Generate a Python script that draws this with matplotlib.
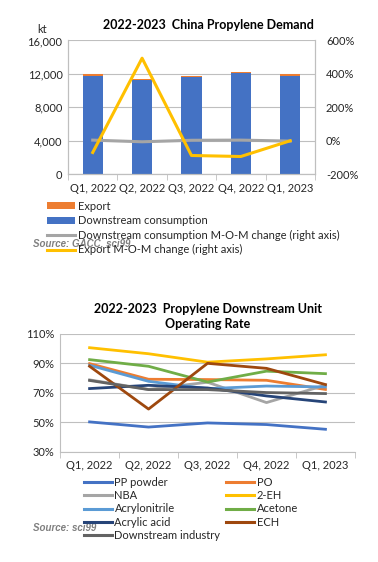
import matplotlib
matplotlib.use("Agg")
import matplotlib.pyplot as plt
from matplotlib.patches import Patch
from matplotlib.lines import Line2D
import numpy as np

plt.rcParams['font.family'] = ['Lato', 'DejaVu Sans']

quarters = ["Q1, 2022", "Q2, 2022", "Q3, 2022", "Q4, 2022", "Q1, 2023"]

# Top chart data
downstream = [11800, 11320, 11640, 12160, 11800]
export = [200, 120, 120, 80, 160]
downstream_mom = [4, -6, 3, 4, -2]
export_mom = [-70, 494, -88, -94, 0]

# Bottom chart data
rate_series = {
    "PP powder": [50.3, 46.8, 49.6, 48.5, 45.3],
    "PO": [89.8, 79.2, 79.0, 78.5, 72.3],
    "NBA": [78.8, 72.3, 77.2, 63.4, 75.2],
    "2-EH": [100.6, 96.5, 90.8, 93.0, 95.8],
    "Acrylonitrile": [88.7, 77.8, 72.8, 74.6, 74.0],
    "Acetone": [92.5, 88.0, 77.3, 84.7, 83.0],
    "Acrylic acid": [72.9, 75.1, 73.3, 67.9, 63.8],
    "ECH": [88.0, 59.0, 90.0, 86.6, 75.6],
    "Downstream industry": [78.4, 72.2, 72.2, 70.2, 69.5],
}
rate_colors = {
    "PP powder": "#4472C4",
    "PO": "#ED7D31",
    "NBA": "#A5A5A5",
    "2-EH": "#FFC000",
    "Acrylonitrile": "#5B9BD5",
    "Acetone": "#70AD47",
    "Acrylic acid": "#264478",
    "ECH": "#9E480E",
    "Downstream industry": "#636363",
}

fig = plt.figure(figsize=(3.78, 5.62), dpi=100)
fig.patch.set_facecolor("white")
grid_c = "#BFBFBF"
txt_c = "#262626"

# ---------- Top chart ----------
ax = fig.add_axes([0.180, 0.690, 0.653, 0.238])
x = np.arange(len(quarters))
ax.bar(x, downstream, width=0.41, color="#4472C4", zorder=2)
ax.bar(x, export, width=0.41, bottom=downstream, color="#ED7D31", zorder=2)
ax.set_xlim(-0.5, len(quarters) - 0.5)
ax.set_ylim(0, 16000)
ax.set_yticks([0, 4000, 8000, 12000, 16000])
ax.set_yticklabels(["0", "4,000", "8,000", "12,000", "16,000"])
ax.yaxis.grid(True, color=grid_c, linewidth=0.8, zorder=0)
ax.set_axisbelow(True)
ax.set_xticks(x)
ax.set_xticklabels(quarters)
ax.set_xticks(np.arange(-0.5, len(quarters), 1), minor=True)
ax.tick_params(axis="x", which="major", length=0, labelsize=8, colors=txt_c, pad=6)
ax.tick_params(axis="x", which="minor", length=4, color=grid_c, direction="out")
ax.tick_params(axis="y", length=0, labelsize=8, colors=txt_c, pad=4)
ax.spines["top"].set_visible(False)
for s in ["left", "bottom", "right"]:
    ax.spines[s].set_color(grid_c)

ax2 = ax.twinx()
ax2.plot(x, downstream_mom, color="#A5A5A5", linewidth=2.2, zorder=3)
ax2.plot(x, export_mom, color="#FFC000", linewidth=2.2, zorder=4)
ax2.set_ylim(-200, 600)
ax2.set_yticks([-200, 0, 200, 400, 600])
ax2.set_yticklabels(["-200%", "0%", "200%", "400%", "600%"])
ax2.tick_params(axis="y", length=0, labelsize=8, colors=txt_c, pad=8)
ax2.spines["top"].set_visible(False)
for s in ["left", "bottom", "right"]:
    ax2.spines[s].set_color(grid_c)

fig.text(0.552, 0.955, "2022-2023  China Propylene Demand", ha="center", va="center",
         fontsize=9, fontweight="bold", color="#000000")
fig.text(0.098, 0.948, "kt", ha="left", va="center", fontsize=8, color=txt_c)

handles1 = [
    Patch(facecolor="#ED7D31"),
    Patch(facecolor="#4472C4"),
    Line2D([0], [0], color="#A5A5A5", linewidth=2.2),
    Line2D([0], [0], color="#FFC000", linewidth=2.2),
]
labels1 = ["Export", "Downstream consumption",
           "Downstream consumption M-O-M change (right axis)",
           "Export M-O-M change (right axis)"]
fig.legend(handles1, labels1, loc="upper left", bbox_to_anchor=(0.125, 0.643),
           frameon=False, fontsize=8, handlelength=2.5, handleheight=0.6,
           handletextpad=0.3, labelspacing=0.32, borderaxespad=0, borderpad=0,
           labelcolor=txt_c)
fig.text(0.087, 0.567, "Source: GACC, sci99", ha="left", va="center", fontsize=7,
         fontweight="bold", style="italic", color="#7F7F7F",
         family=["Liberation Sans", "DejaVu Sans"])

# ---------- Bottom chart ----------
bx = fig.add_axes([0.159, 0.196, 0.780, 0.210])
for name, vals in rate_series.items():
    bx.plot(x, vals, color=rate_colors[name], linewidth=2.0, label=name)
bx.set_xlim(-0.5, len(quarters) - 0.5)
bx.set_ylim(30, 110)
bx.set_yticks([30, 50, 70, 90, 110])
bx.set_yticklabels(["30%", "50%", "70%", "90%", "110%"])
bx.yaxis.grid(True, color=grid_c, linewidth=0.8, zorder=0)
bx.set_axisbelow(True)
bx.set_xticks(x)
bx.set_xticklabels(quarters)
bx.set_xticks(np.arange(-0.5, len(quarters), 1), minor=True)
bx.tick_params(axis="x", which="major", length=0, labelsize=8, colors=txt_c, pad=6)
bx.tick_params(axis="x", which="minor", length=4, color=grid_c, direction="out")
bx.tick_params(axis="y", length=0, labelsize=8, colors=txt_c, pad=4)
for s in ["top", "right"]:
    bx.spines[s].set_visible(False)
for s in ["left", "bottom"]:
    bx.spines[s].set_color(grid_c)

fig.text(0.55, 0.436, "2022-2023  Propylene Downstream Unit\nOperating Rate", ha="center",
         va="center", fontsize=9, fontweight="bold", color="#000000", linespacing=1.3)

legend_order = ["PP powder", "NBA", "Acrylonitrile", "Acrylic acid", "Downstream industry",
                "PO", "2-EH", "Acetone", "ECH"]
h2 = [Line2D([0], [0], color=rate_colors[n], linewidth=2.2) for n in legend_order]
fig.legend(h2, legend_order, loc="upper left", bbox_to_anchor=(0.222, 0.152),
           ncol=2, frameon=False, fontsize=8, handlelength=2.5, handletextpad=0.25,
           labelspacing=0.22, columnspacing=0.5, borderaxespad=0, borderpad=0,
           labelcolor=txt_c)
fig.text(0.087, 0.060, "Source: sci99", ha="left", va="center", fontsize=7,
         fontweight="bold", style="italic", color="#7F7F7F",
         family=["Liberation Sans", "DejaVu Sans"])

fig.savefig("out.png", dpi=100, facecolor="white")
